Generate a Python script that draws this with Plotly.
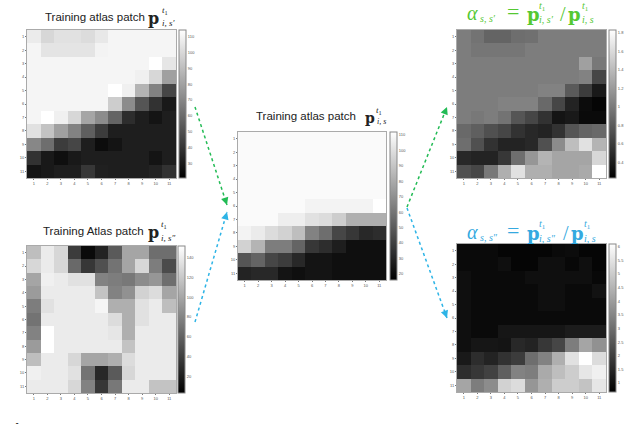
import plotly.graph_objs as go

W = 640
H = 424

rows = [1, 2, 3, 4, 5, 6, 7, 8, 9, 10, 11]
cols = [1, 2, 3, 4, 5, 6, 7, 8, 9, 10, 11]

# grey levels
patch_s1 = [
    [235, 215, 225, 225, 220, 232, 245, 245, 245, 245, 245],
    [245, 228, 228, 228, 228, 243, 245, 245, 245, 245, 245],
    [245, 245, 245, 245, 245, 245, 245, 245, 245, 255, 230],
    [245, 245, 245, 245, 245, 245, 245, 245, 240, 215, 160],
    [245, 245, 245, 245, 245, 245, 255, 240, 180, 130, 70],
    [245, 245, 245, 245, 245, 245, 205, 140, 85, 50, 25],
    [245, 255, 240, 215, 165, 140, 100, 45, 30, 20, 30],
    [225, 195, 160, 130, 95, 60, 30, 30, 30, 30, 30],
    [135, 110, 60, 70, 30, 12, 20, 30, 30, 30, 30],
    [50, 25, 15, 25, 30, 30, 30, 30, 30, 20, 30],
    [20, 25, 30, 30, 55, 32, 30, 30, 30, 35, 50],
]
patch_s2 = [
    [190, 235, 215, 60, 10, 35, 90, 165, 165, 110, 110],
    [215, 235, 215, 105, 55, 80, 115, 165, 215, 125, 75],
    [165, 240, 235, 225, 225, 130, 125, 120, 140, 150, 110],
    [155, 235, 235, 235, 235, 195, 130, 145, 210, 220, 165],
    [125, 225, 235, 235, 235, 245, 175, 175, 225, 235, 190],
    [115, 235, 235, 235, 235, 235, 220, 175, 225, 235, 235],
    [130, 255, 235, 235, 235, 235, 230, 175, 235, 235, 235],
    [155, 255, 235, 235, 235, 235, 235, 195, 235, 235, 235],
    [190, 235, 235, 215, 165, 165, 175, 220, 235, 235, 235],
    [240, 235, 235, 225, 115, 40, 90, 215, 235, 235, 235],
    [235, 235, 235, 215, 130, 55, 120, 235, 235, 195, 195],
]
patch_s = [
    [250, 250, 250, 250, 250, 250, 250, 250, 250, 250, 250],
    [250, 250, 250, 250, 250, 250, 250, 250, 250, 250, 250],
    [250, 250, 250, 250, 250, 250, 250, 250, 250, 250, 250],
    [250, 250, 250, 250, 250, 250, 250, 250, 250, 250, 250],
    [250, 250, 250, 250, 250, 250, 250, 250, 250, 250, 250],
    [250, 250, 250, 250, 250, 243, 243, 243, 243, 243, 255],
    [250, 250, 250, 238, 238, 225, 220, 205, 175, 175, 175],
    [243, 235, 220, 210, 190, 130, 110, 70, 55, 40, 45],
    [210, 180, 125, 125, 100, 55, 45, 30, 15, 15, 15],
    [85, 100, 70, 60, 40, 20, 20, 15, 15, 15, 15],
    [35, 40, 40, 20, 15, 20, 20, 15, 15, 15, 15],
]
alpha_s1 = [
    [125, 115, 100, 100, 110, 112, 125, 125, 125, 125, 125],
    [125, 118, 118, 118, 118, 125, 125, 125, 125, 125, 125],
    [125, 125, 125, 125, 125, 125, 125, 125, 125, 160, 120],
    [125, 125, 125, 125, 125, 125, 125, 125, 125, 130, 70],
    [125, 125, 125, 125, 125, 125, 130, 130, 90, 60, 25],
    [125, 125, 125, 130, 130, 130, 105, 70, 35, 12, 5],
    [125, 120, 125, 115, 85, 70, 50, 20, 25, 10, 10],
    [105, 95, 80, 70, 50, 40, 35, 50, 85, 100, 105],
    [110, 80, 50, 35, 35, 40, 80, 140, 190, 225, 180],
    [40, 35, 35, 55, 110, 150, 180, 165, 165, 165, 215],
    [80, 70, 120, 175, 225, 175, 175, 165, 165, 170, 255],
]
alpha_s2 = [
    [10, 10, 10, 5, 5, 5, 5, 10, 12, 5, 5],
    [10, 10, 10, 15, 5, 5, 15, 15, 8, 15, 5],
    [15, 10, 10, 10, 10, 15, 15, 15, 15, 15, 8],
    [15, 10, 10, 10, 10, 10, 15, 15, 10, 10, 18],
    [15, 10, 10, 10, 10, 10, 15, 15, 10, 10, 10],
    [15, 10, 10, 10, 10, 10, 10, 10, 10, 10, 10],
    [15, 10, 10, 22, 22, 22, 22, 22, 28, 28, 28],
    [15, 22, 22, 20, 40, 35, 55, 70, 125, 165, 145],
    [25, 45, 35, 50, 60, 110, 130, 175, 225, 255, 220],
    [45, 55, 65, 95, 130, 125, 170, 190, 205, 230, 240],
    [165, 125, 140, 210, 220, 150, 175, 205, 205, 195, 230],
]

# colorbar labels and the value range of each bar
ticks_s1 = [30, 40, 50, 60, 70, 80, 90, 100, 110]
range_s1 = [21, 114]
ticks_s2 = [20, 40, 60, 80, 100, 120, 140]
range_s2 = [3, 152]
ticks_s = [20, 30, 40, 50, 60, 70, 80, 90, 100, 110]
range_s = [16, 112]
ticks_a1 = [0.4, 0.6, 0.8, 1, 1.2, 1.4, 1.6, 1.8]
range_a1 = [0.23, 1.83]
ticks_a2 = [1, 1.5, 2, 2.5, 3, 3.5, 4, 4.5, 5, 5.5, 6]
range_a2 = [0.67, 6.1]

GREEN = '#55c832'
BLUE = '#35a9e0'
ARROW_GREEN = '#22bb55'
ARROW_BLUE = '#2db4e6'
TICK_COLOR = '#555555'


def fx(px):
    return px / W


def fy(px):
    return 1 - px / H


fig = go.Figure()

# z, (left, right, top, bottom) in pixels, ticks, range, colorbar left
panels = [
    (patch_s1, (27, 176, 30, 178), ticks_s1, range_s1, 179),
    (patch_s2, (27, 176, 246, 393), ticks_s2, range_s2, 178),
    (patch_s, (238, 386, 132, 280), ticks_s, range_s, 390),
    (alpha_s1, (457, 606, 30, 178), ticks_a1, range_a1, 609),
    (alpha_s2, (457, 606, 244, 392), ticks_a2, range_a2, 609),
]

layout_axes = {}
for n, (z, box, ticks, rng, cb_left) in enumerate(panels, start=1):
    left, right, top, bottom = box
    suffix = '' if n == 1 else str(n)
    tickvals = [255 * (t - rng[0]) / (rng[1] - rng[0]) for t in ticks]
    fig.add_trace(go.Heatmap(
        z=z,
        x=cols,
        y=rows,
        zmin=0,
        zmax=255,
        xaxis='x' + suffix,
        yaxis='y' + suffix,
        colorscale=[[0, '#000000'], [1, '#ffffff']],
        hoverinfo='skip',
        colorbar=dict(
            x=fx(cb_left),
            xanchor='left',
            xpad=0,
            y=fy(top),
            yanchor='top',
            ypad=0,
            len=(bottom - top) / H,
            thickness=7,
            outlinecolor='#888888',
            outlinewidth=1,
            tickmode='array',
            tickvals=tickvals,
            ticktext=[str(t) for t in ticks],
            ticks='',
            tickfont=dict(size=4, color=TICK_COLOR, family='Liberation Sans'),
        ),
    ))
    axis_style = dict(
        tickmode='array',
        tickvals=cols,
        ticks='outside',
        ticklen=1,
        tickwidth=1,
        tickcolor='#777777',
        tickfont=dict(size=4, color=TICK_COLOR, family='Liberation Sans'),
        showgrid=False,
        zeroline=False,
        showline=True,
        mirror=True,
        linecolor='#aaaaaa',
        linewidth=1,
    )
    layout_axes['xaxis' + suffix] = dict(
        axis_style,
        domain=[fx(left), fx(right)],
        anchor='y' + suffix,
    )
    layout_axes['yaxis' + suffix] = dict(
        axis_style,
        domain=[fy(bottom), fy(top)],
        anchor='x' + suffix,
        autorange='reversed',
    )


def note(text, px, py, size, color='#222222', family='Liberation Sans'):
    return go.layout.Annotation(
        text=text,
        x=fx(px),
        y=fy(py),
        xref='paper',
        yref='paper',
        xanchor='left',
        yanchor='middle',
        showarrow=False,
        font=dict(size=size, color=color, family=family),
    )


MATH = 'DejaVu Serif'
SERIF = 'Liberation Serif'

annotations = [
    # left and centre titles
    note('Training atlas patch', 43, 17, 11.5),
    note('<b>p</b>', 146, 18, 16, family=MATH),
    note('<i>t</i><sub>1</sub>', 160, 10, 9, family=SERIF),
    note('<i>i, s′</i>', 160, 23, 9, family=SERIF),
    note('Training Atlas patch', 41, 231, 11.5),
    note('<b>p</b>', 146, 232, 16, family=MATH),
    note('<i>t</i><sub>1</sub>', 159, 224, 9, family=SERIF),
    note('<i>i, s″</i>', 159, 238, 9, family=SERIF),
    note('Training atlas patch', 254, 116, 11.5),
    note('<b>p</b>', 363, 118, 14, family=MATH),
    note('<i>t</i><sub>1</sub>', 374, 110, 9, family=SERIF),
    note('<i>i, s</i>', 375, 121, 8, family=SERIF),
    # green formula
    note('<i>α</i>', 465, 13, 20, GREEN, SERIF),
    note('<i>s, s′</i>', 478, 18, 10, GREEN, SERIF),
    note('=', 505, 12, 22, GREEN, SERIF),
    note('<b>p</b>', 525, 14, 18, GREEN, MATH),
    note('<i>t</i><sub>1</sub>', 537, 6, 10, GREEN, SERIF),
    note('<i>i, s′</i>', 537, 20, 10, GREEN, SERIF),
    note('/', 558, 14, 20, GREEN, SERIF),
    note('<b>p</b>', 566, 14, 18, GREEN, MATH),
    note('<i>t</i><sub>1</sub>', 580, 6, 10, GREEN, SERIF),
    note('<i>i, s</i>', 580, 20, 10, GREEN, SERIF),
    # blue formula
    note('<i>α</i>', 465, 232, 20, BLUE, SERIF),
    note('<i>s, s″</i>', 478, 237, 10, BLUE, SERIF),
    note('=', 505, 230, 22, BLUE, SERIF),
    note('<b>p</b>', 525, 233, 18, BLUE, MATH),
    note('<i>t</i><sub>1</sub>', 537, 224, 10, BLUE, SERIF),
    note('<i>i, s″</i>', 537, 238, 10, BLUE, SERIF),
    note('/', 561, 233, 20, BLUE, SERIF),
    note('<b>p</b>', 569, 233, 18, BLUE, MATH),
    note('<i>t</i><sub>1</sub>', 582, 224, 10, BLUE, SERIF),
    note('<i>i, s</i>', 582, 238, 10, BLUE, SERIF),
    # caption, cut off by the bottom of the picture
    note('<b>Fig. 2</b>', 0, 431, 20, '#111111', SERIF),
]

# dotted arrows between the panels
arrows = [
    (195, 107, 227, 205, ARROW_GREEN),
    (195, 322, 227, 212, ARROW_BLUE),
    (407, 207, 447, 107, ARROW_GREEN),
    (407, 208, 447, 318, ARROW_BLUE),
]
shapes = []
for x0, y0, x1, y1, color in arrows:
    shapes.append(dict(
        type='line',
        xref='paper',
        yref='paper',
        x0=fx(x0),
        y0=fy(y0),
        x1=fx(x1),
        y1=fy(y1),
        line=dict(color=color, width=1.5, dash='dot'),
    ))
    # arrow head: short annotation arrow along the same direction
    annotations.append(go.layout.Annotation(
        x=fx(x1),
        y=fy(y1),
        ax=(x0 - x1) * 0.06,
        ay=(y0 - y1) * 0.06,
        xref='paper',
        yref='paper',
        text='',
        showarrow=True,
        arrowhead=2,
        arrowsize=1,
        arrowwidth=1.5,
        arrowcolor=color,
    ))

fig.update_layout(
    width=W,
    height=H,
    margin=dict(l=0, r=0, t=0, b=0),
    paper_bgcolor='white',
    plot_bgcolor='white',
    showlegend=False,
    annotations=annotations,
    shapes=shapes,
    **layout_axes,
)

fig.write_html(
    "out.html",
    config={'displayModeBar': False},
    post_script="document.body.style.margin='0';",
)
